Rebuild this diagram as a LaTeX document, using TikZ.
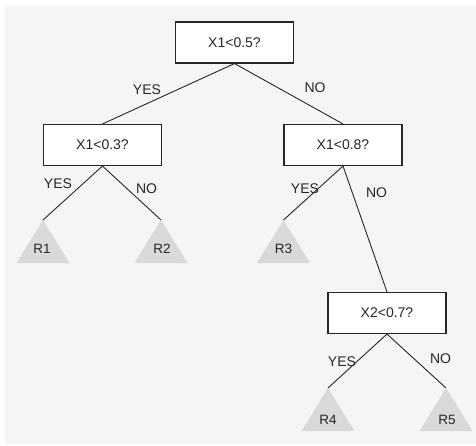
\documentclass[tikz,border=0pt]{standalone}
\usepackage{fontspec}
\setmainfont{Liberation Sans}
\begin{document}
\begin{tikzpicture}[x=1pt,y=-1pt,
  box/.style={draw=black!85,line width=1.1pt,fill=white,minimum width=118pt,minimum height=41pt,inner sep=0pt,font=\fontsize{14}{16}\selectfont,text=black!85},
  edge/.style={draw=black!85,line width=0.9pt},
  lab/.style={font=\fontsize{14}{16}\selectfont,text=black!85,inner sep=0pt},
  leaf/.style={fill=black!15},
  leaftext/.style={font=\fontsize{13.5}{15}\selectfont,text=black!85,inner sep=0pt}]
\useasboundingbox (0,0) rectangle (476,446);
\fill[white] (0,0) rectangle (476,446);
\fill[black!4] (5,6) rectangle (476,444);
% decision boxes
\node[box] (root) at (234.5,42.5) {X1<0.5?};
\node[box] (a) at (102.5,145) {X1<0.3?};
\node[box] (b) at (343,145) {X1<0.8?};
\node[box] (c) at (387,313) {X2<0.7?};
% leaves
\fill[leaf] (43,220) -- (16.5,263) -- (69.5,263) -- cycle;
\fill[leaf] (161,220) -- (134.5,263) -- (187.5,263) -- cycle;
\fill[leaf] (283.5,220) -- (257,263) -- (310,263) -- cycle;
\fill[leaf] (328,388) -- (301.5,431) -- (354.5,431) -- cycle;
\fill[leaf] (446,388) -- (419.5,431) -- (472.5,431) -- cycle;
\coordinate (t1) at (43,220);
\coordinate (t2) at (161,220);
\coordinate (t3) at (283.5,220);
\coordinate (t4) at (328,388);
\coordinate (t5) at (446,388);
\node[leaftext] (r1) at (42,249) {R1};
\node[leaftext] (r2) at (162,249) {R2};
\node[leaftext] (r3) at (283.5,249) {R3};
\node[leaftext] (r4) at (328,420) {R4};
\node[leaftext] (r5) at (447,420) {R5};
% connectors
\draw[edge] (root.south) -- (a.north);
\draw[edge] (root.south) -- (b.north);
\draw[edge] (a.south) -- (t1);
\draw[edge] (a.south) -- (t2);
\draw[edge] (b.south) -- (t3);
\draw[edge] (b.south) -- (c.north);
\draw[edge] (c.south) -- (t4);
\draw[edge] (c.south) -- (t5);
% labels
\node[lab] (l1) at (147,90) {YES};
\node[lab] (l2) at (315,87.5) {NO};
\node[lab] (l3) at (58,184) {YES};
\node[lab] (l4) at (146.5,189) {NO};
\node[lab] (l5) at (305,189) {YES};
\node[lab] (l6) at (376.5,193) {NO};
\node[lab] (l7) at (342,361.5) {YES};
\node[lab] (l8) at (440.5,358.5) {NO};
\end{tikzpicture}
\end{document}
